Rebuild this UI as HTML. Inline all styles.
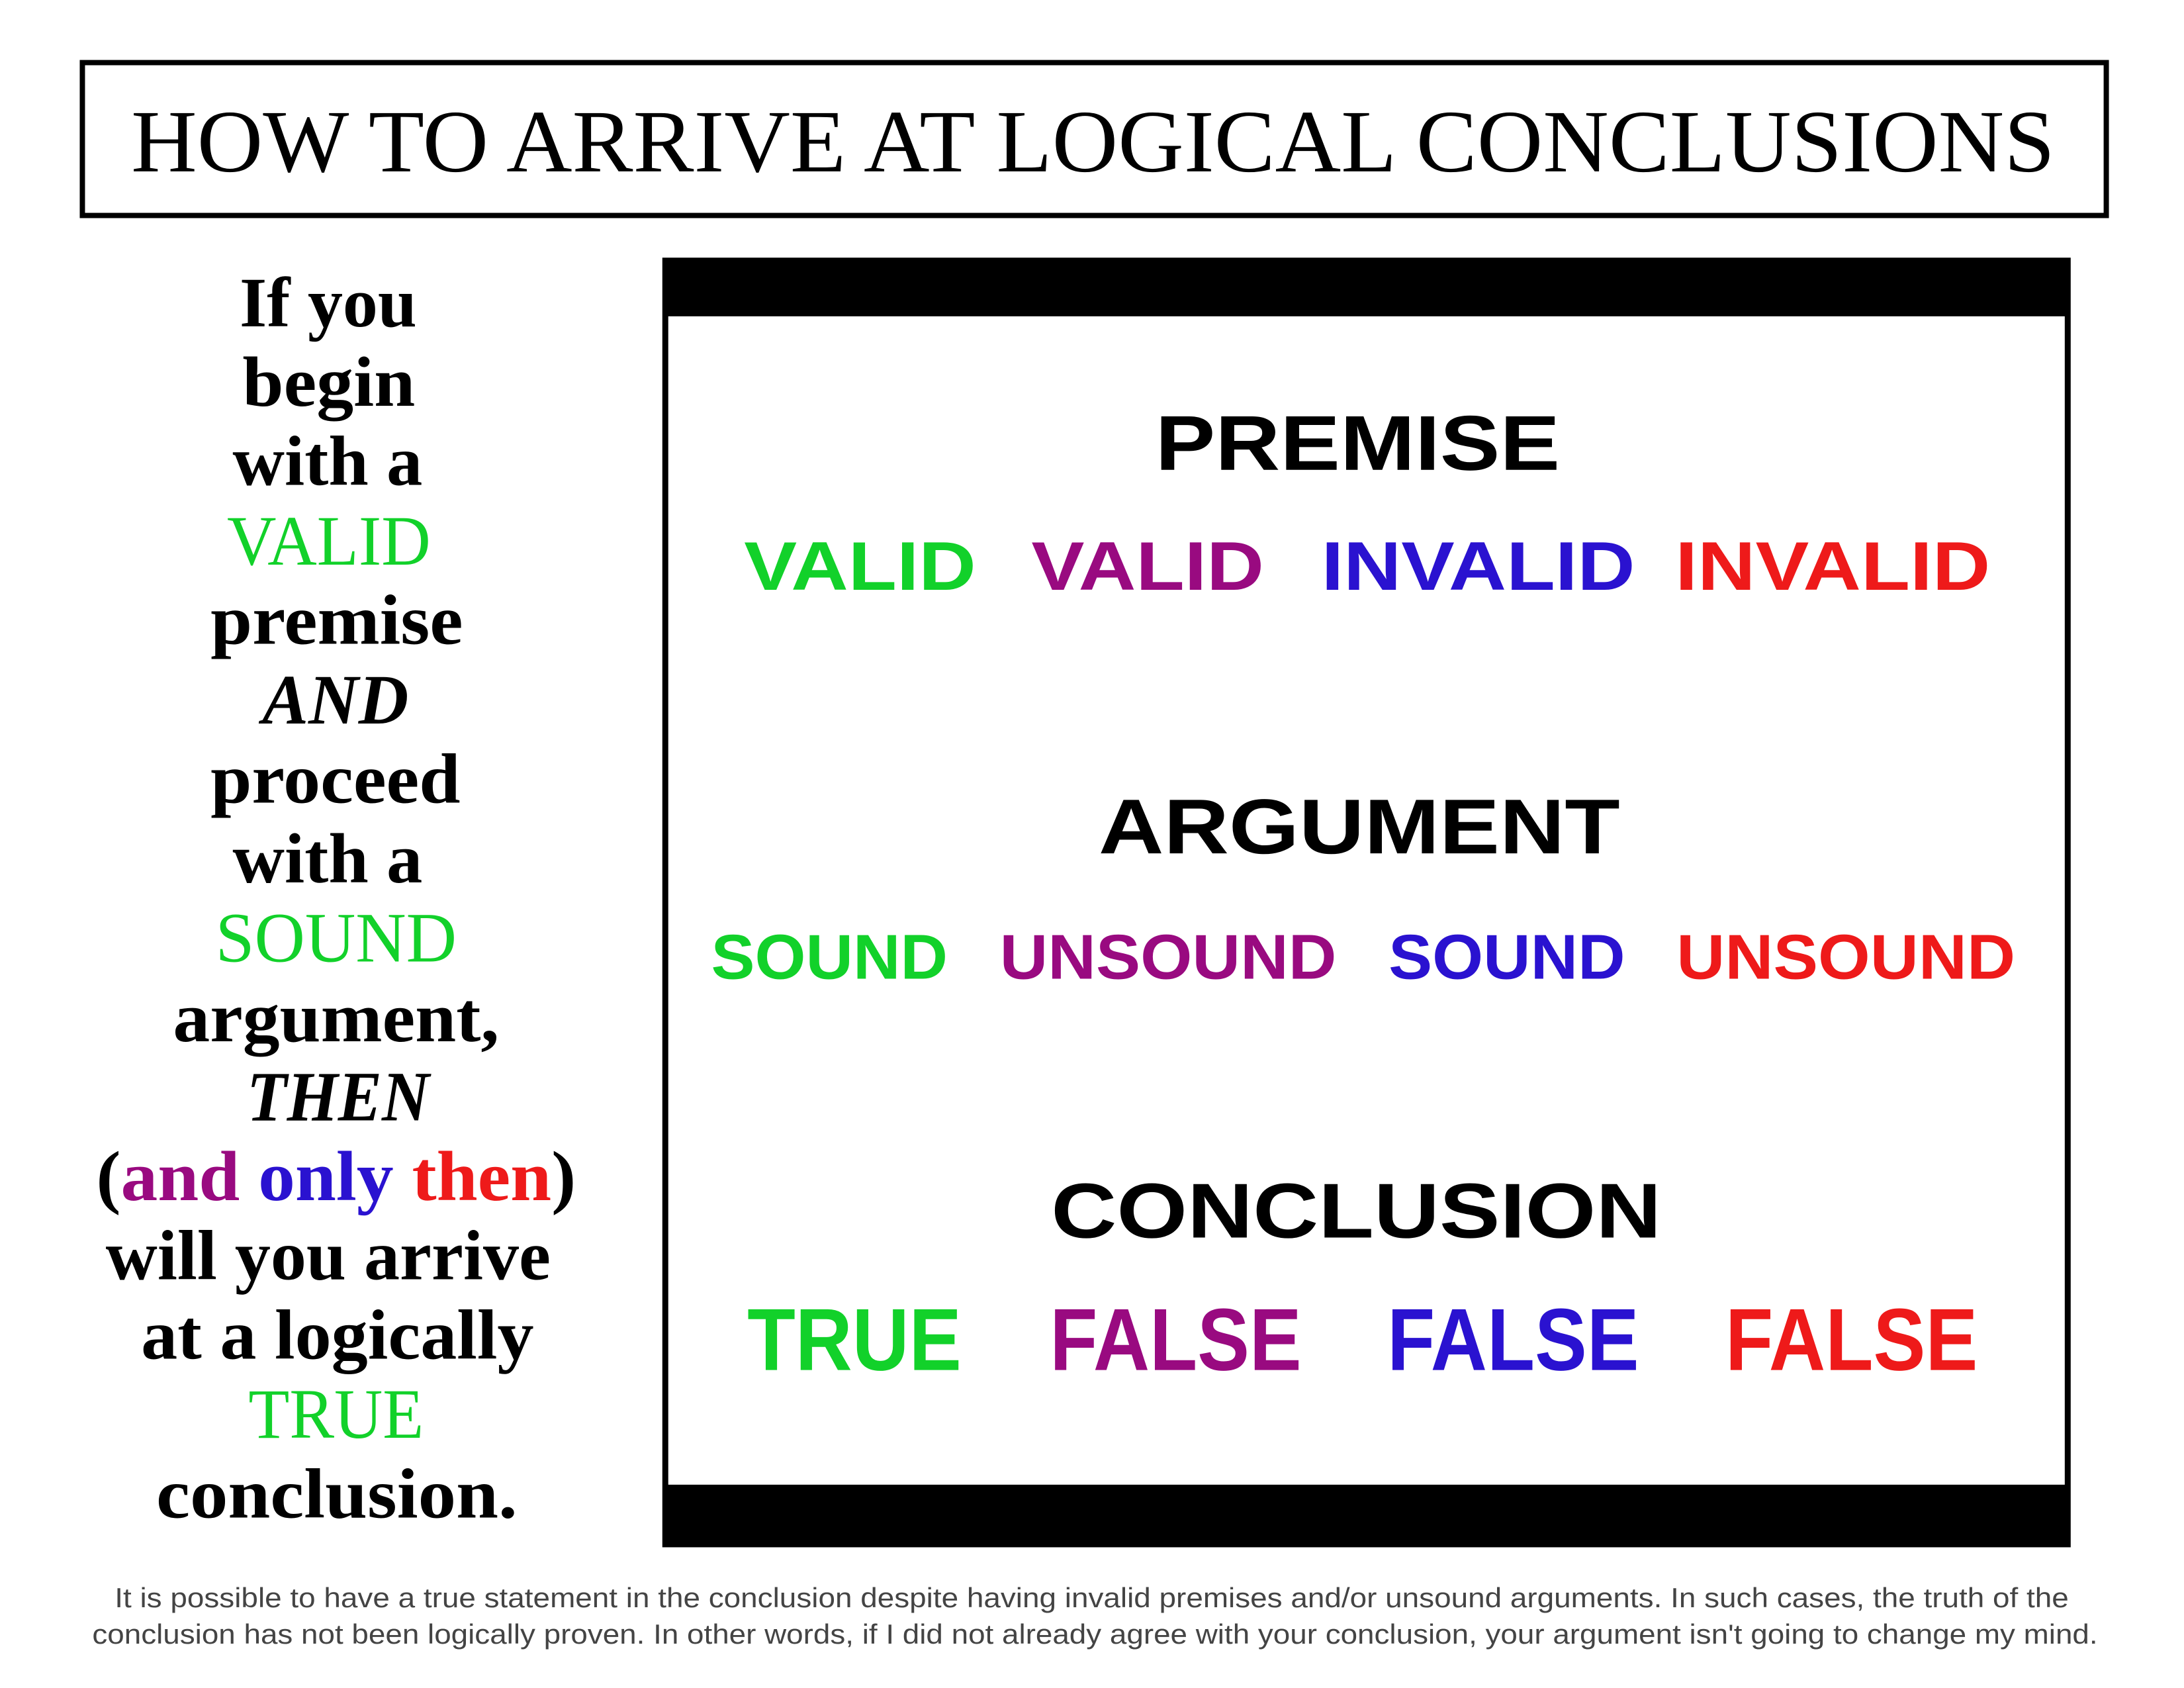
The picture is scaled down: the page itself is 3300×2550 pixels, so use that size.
<!DOCTYPE html>
<html><head><meta charset="utf-8"><style>html,body{margin:0;padding:0;background:#fff}svg{display:block}</style></head>
<body>
<svg width="3300" height="2550" viewBox="0 0 3300 2550" xmlns="http://www.w3.org/2000/svg">
<g transform="matrix(0.9958 0 0 0.9955 -2 -2)">
<rect x="127" y="97" width="3071" height="232" fill="none" stroke="#000" stroke-width="8"/>
<text x="201" y="262" font-family="Liberation Serif, serif" font-size="135" textLength="2919" lengthAdjust="spacingAndGlyphs">HOW TO ARRIVE AT LOGICAL CONCLUSIONS</text>

<rect x="1007" y="393" width="2137" height="1957" fill="#000"/>
<rect x="1016" y="482" width="2119" height="1773" fill="#fff"/>

<g font-family="Liberation Sans, sans-serif" font-weight="bold">
<text x="1755" y="715" font-size="118" textLength="614" lengthAdjust="spacingAndGlyphs">PREMISE</text>
<text x="1669" y="1297" font-size="118" textLength="791" lengthAdjust="spacingAndGlyphs">ARGUMENT</text>
<text x="1597" y="1880" font-size="118" textLength="926" lengthAdjust="spacingAndGlyphs">CONCLUSION</text>

<g font-size="104">
<text x="1131" y="897" fill="#12d12a" textLength="352" lengthAdjust="spacingAndGlyphs">VALID</text>
<text x="1567" y="897" fill="#990a80" textLength="353" lengthAdjust="spacingAndGlyphs">VALID</text>
<text x="2007" y="897" fill="#2a12d0" textLength="476" lengthAdjust="spacingAndGlyphs">INVALID</text>
<text x="2544" y="897" fill="#ee1a1a" textLength="478" lengthAdjust="spacingAndGlyphs">INVALID</text>
</g>
<g font-size="96">
<text x="1081" y="1487" fill="#12d12a" textLength="359" lengthAdjust="spacingAndGlyphs">SOUND</text>
<text x="1519" y="1487" fill="#990a80" textLength="511" lengthAdjust="spacingAndGlyphs">UNSOUND</text>
<text x="2109" y="1487" fill="#2a12d0" textLength="359" lengthAdjust="spacingAndGlyphs">SOUND</text>
<text x="2546" y="1487" fill="#ee1a1a" textLength="514" lengthAdjust="spacingAndGlyphs">UNSOUND</text>
</g>
<g font-size="134">
<text x="1136" y="2081" fill="#12d12a" textLength="325" lengthAdjust="spacingAndGlyphs">TRUE</text>
<text x="1595" y="2081" fill="#990a80" textLength="382" lengthAdjust="spacingAndGlyphs">FALSE</text>
<text x="2107" y="2081" fill="#2a12d0" textLength="382" lengthAdjust="spacingAndGlyphs">FALSE</text>
<text x="2620" y="2081" fill="#ee1a1a" textLength="383" lengthAdjust="spacingAndGlyphs">FALSE</text>
</g>
</g>

<g font-family="Liberation Serif, serif" font-weight="bold" font-size="108" text-anchor="middle">
<text x="500" y="497" textLength="269" lengthAdjust="spacingAndGlyphs">If you</text>
<text x="501" y="618" textLength="262" lengthAdjust="spacingAndGlyphs">begin</text>
<text x="499" y="738" textLength="288" lengthAdjust="spacingAndGlyphs">with a</text>
<text x="501" y="859" fill="#12d12a" font-weight="normal" textLength="309" lengthAdjust="spacingAndGlyphs">VALID</text>
<text x="513" y="979" textLength="383" lengthAdjust="spacingAndGlyphs">premise</text>
<text x="511" y="1100" font-style="italic" textLength="222" lengthAdjust="spacingAndGlyphs">AND</text>
<text x="511" y="1220" textLength="379" lengthAdjust="spacingAndGlyphs">proceed</text>
<text x="499" y="1341" textLength="288" lengthAdjust="spacingAndGlyphs">with a</text>
<text x="512" y="1461" fill="#12d12a" font-weight="normal" textLength="366" lengthAdjust="spacingAndGlyphs">SOUND</text>
<text x="512" y="1582" textLength="495" lengthAdjust="spacingAndGlyphs">argument,</text>
<text x="515" y="1702" font-style="italic" textLength="277" lengthAdjust="spacingAndGlyphs">THEN</text>
<text x="512" y="1823" textLength="728" lengthAdjust="spacingAndGlyphs">(<tspan fill="#990a80">and</tspan> <tspan fill="#2a12d0">only</tspan> <tspan fill="#ee1a1a">then</tspan>)</text>
<text x="500" y="1943" textLength="675" lengthAdjust="spacingAndGlyphs">will you arrive</text>
<text x="514" y="2064" textLength="596" lengthAdjust="spacingAndGlyphs">at a logically</text>
<text x="512" y="2184" fill="#12d12a" font-weight="normal" textLength="266" lengthAdjust="spacingAndGlyphs">TRUE</text>
<text x="513" y="2305" textLength="548" lengthAdjust="spacingAndGlyphs">conclusion.</text>
</g>

<g font-family="Liberation Sans, sans-serif" font-size="42" fill="#444">
<text x="176" y="2441" textLength="2965" lengthAdjust="spacingAndGlyphs">It is possible to have a true statement in the conclusion despite having invalid premises and/or unsound arguments. In such cases, the truth of the</text>
<text x="142" y="2496" textLength="3043" lengthAdjust="spacingAndGlyphs">conclusion has not been logically proven. In other words, if I did not already agree with your conclusion, your argument isn't going to change my mind.</text>
</g>
</g>
</svg>
</body></html>
